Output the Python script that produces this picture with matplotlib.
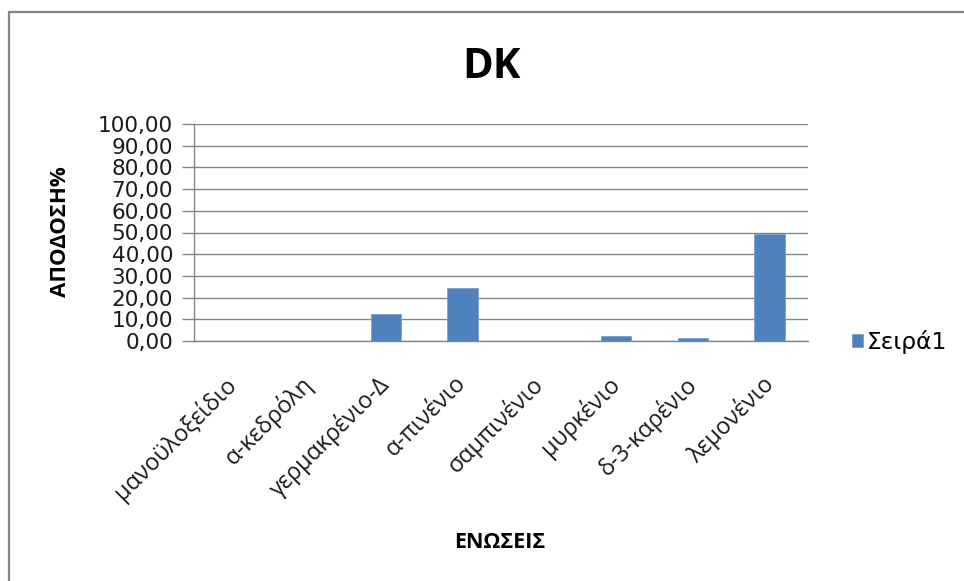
import numpy as np
import matplotlib.pyplot as plt
from matplotlib.patches import Rectangle
from matplotlib.transforms import ScaledTranslation

# ενώσεις και απόδοση %
enoseis = ['μανοϋλοξείδιο', 'α-κεδρόλη', 'γερμακρένιο-Δ', 'α-πινένιο',
           'σαμπινένιο', 'μυρκένιο', 'δ-3-καρένιο', 'λεμονένιο']
apodosi = [0.0, 0.0, 12.4, 24.3, 0.0, 2.5, 1.3, 49.2]
yticks = np.arange(0, 101, 10)
seira = 'Σειρά1'

W, H = 964, 581
fig = plt.figure(figsize=(W / 100, H / 100), dpi=100)
fig.patch.set_facecolor('white')

# πλαίσιο γραφήματος
fig.patches.append(Rectangle((9 / W, -0.1), 1.2, 1.1 - 12 / H, transform=fig.transFigure,
                             fill=False, edgecolor='#868686', linewidth=1.6))

ax = fig.add_axes([194 / W, 1 - 341 / H, (808 - 194) / W, (341 - 124) / H])
x = np.arange(len(enoseis))
ax.bar(x, apodosi, width=0.4, color='#4F81BD', edgecolor='#7BA0CD', linewidth=0.6,
       zorder=3, label=seira)

ax.set_xlim(-0.5, len(enoseis) - 0.5)
ax.set_ylim(0, 100)
ax.set_yticks(yticks)
ax.set_yticklabels([('%.2f' % v).replace('.', ',') for v in yticks],
                   fontsize=15.6, family=['DejaVu Sans'], color='#1a1a1a')
ax.yaxis.grid(True, color='#868686', linewidth=1.0, zorder=0)
ax.tick_params(axis='y', length=9, width=1.0, color='#868686', pad=6)
ax.set_xticks(x)
ax.set_xticklabels(enoseis, rotation=45, ha='right', rotation_mode='anchor',
                   fontsize=16.8, family=['Open Sans', 'DejaVu Sans'], color='#1a1a1a')
ax.tick_params(axis='x', length=0, pad=22)
# μετατόπιση των ετικετών λίγο αριστερά
shift = ScaledTranslation(-9 / 100, 0, fig.dpi_scale_trans)
for lbl in ax.get_xticklabels():
    lbl.set_transform(lbl.get_transform() + shift)

for s in ['top', 'right']:
    ax.spines[s].set_visible(False)
for s in ['left', 'bottom']:
    ax.spines[s].set_color('#868686')
    ax.spines[s].set_linewidth(1.0)

fig.text(60 / W, 1 - 232 / H, 'ΑΠΟΔΟΣΗ%', rotation=90, ha='center', va='center',
         fontsize=16, fontweight='bold', family=['Open Sans', 'DejaVu Sans'])
fig.text(500 / W, 1 - 543 / H, 'ΕΝΩΣΕΙΣ', ha='center', va='center', fontsize=15.5,
         fontweight='bold', family=['Open Sans', 'DejaVu Sans'])
fig.text(491 / W, 1 - 67 / H, 'DK', ha='center', va='center', fontsize=30,
         fontweight='bold', family=['Open Sans', 'DejaVu Sans'])

fig.legend(loc='center left', bbox_to_anchor=(831 / W, 1 - 342 / H), frameon=False,
           handlelength=0.45, handleheight=0.45, handletextpad=0.2,
           prop={'family': ['DejaVu Sans'], 'size': 16.8})

fig.savefig('out.png', dpi=100, facecolor='white')
